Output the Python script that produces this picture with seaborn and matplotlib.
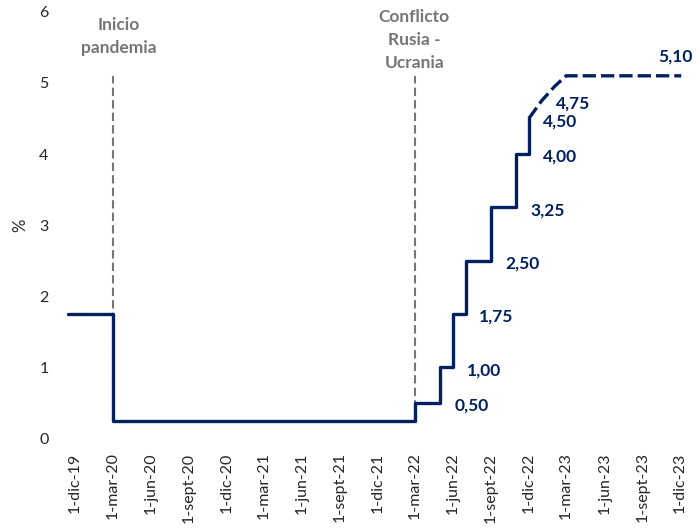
import pandas as pd
import matplotlib.pyplot as plt
import seaborn as sns

# policy rate (steps, actual) and projected path (dashed)
rate_dates = ['2019-11-14', '2020-03-01', '2022-03-01', '2022-05-01', '2022-06-01',
              '2022-07-01', '2022-09-01', '2022-11-01', '2022-12-01']
rate_values = [1.75, 0.25, 0.50, 1.00, 1.75, 2.50, 3.25, 4.00, 4.50]

proj_dates = ['2022-12-01', '2023-01-01', '2023-02-01', '2023-03-01', '2023-12-04']
proj_values = [4.50, 4.75, 4.95, 5.10, 5.10]

# where the value labels sit
label_dates = ['2022-05-01', '2022-06-01', '2022-07-01', '2022-09-01', '2022-11-01',
               '2022-12-01', '2022-12-01', '2023-01-01']
label_values = [0.50, 1.00, 1.75, 2.50, 3.25, 4.00, 4.50, 4.75]
label_texts = ['0,50', '1,00', '1,75', '2,50', '3,25', '4,00', '4,50', '4,75']

event_dates = ['2020-03-01', '2022-03-01']
event_texts = ['Inicio\npandemia', 'Conflicto\nRusia -\nUcrania']
event_text_shift = [14, -2]  # days
event_text_y = [5.65, 5.6]

tick_dates = pd.date_range('2019-12-01', '2023-12-01', freq='3MS')
tick_labels = ['1-dic-19', '1-mar-20', '1-jun-20', '1-sept-20', '1-dic-20', '1-mar-21',
               '1-jun-21', '1-sept-21', '1-dic-21', '1-mar-22', '1-jun-22', '1-sept-22',
               '1-dic-22', '1-mar-23', '1-jun-23', '1-sept-23', '1-dic-23']

sns.set_theme(style='white')
plt.rcParams['font.family'] = ['Lato', 'DejaVu Sans']

navy = '#002060'
grey = '#767676'
txt = '#262626'

df_rate = pd.DataFrame({'fecha': pd.to_datetime(rate_dates), 'tasa': rate_values})
df_proj = pd.DataFrame({'fecha': pd.to_datetime(proj_dates), 'tasa': proj_values})

fig = plt.figure(figsize=(7, 5.29), dpi=100)
ax = fig.add_axes([68 / 700, 90.5 / 529, 617.8 / 700, 426.7 / 529])

# event markers
for d, t, s, y in zip(event_dates, event_texts, event_text_shift, event_text_y):
    ax.vlines(pd.Timestamp(d), 0.25, 5.1, colors=grey, linestyles=(0, (4, 2)),
              linewidth=1.5, zorder=1)
    ax.text(pd.Timestamp(d) + pd.Timedelta(days=s), y, t, ha='center', va='center',
            fontsize=12.5, fontweight='bold', color=grey, linespacing=1.55)

sns.lineplot(data=df_rate, x='fecha', y='tasa', ax=ax, color=navy, linewidth=2.4,
             drawstyle='steps-post', estimator=None, clip_on=False, zorder=3)
sns.lineplot(data=df_proj, x='fecha', y='tasa', ax=ax, color=navy, linewidth=2.4,
             linestyle=(0, (4, 1.5)), estimator=None, clip_on=False, zorder=3)

for d, v, t in zip(label_dates, label_values, label_texts):
    ax.annotate(t, (pd.Timestamp(d), v), xytext=(10, -2), textcoords='offset points',
                ha='left', va='center', fontsize=12.5, fontweight='bold', color=navy)
ax.annotate('5,10', (pd.Timestamp(proj_dates[-1]), proj_values[-1]), xytext=(-4, 14),
            textcoords='offset points', ha='center', va='center', fontsize=12.5,
            fontweight='bold', color=navy, annotation_clip=False)

ax.set_xlim(pd.Timestamp('2019-11-14'), pd.Timestamp('2023-12-15'))
ax.set_ylim(0, 6)
ax.set_xticks(tick_dates)
ax.set_xticklabels(tick_labels, rotation=90, fontsize=11.5, color=txt)
ax.set_yticks(range(0, 7))
ax.set_yticklabels([str(i) for i in range(0, 7)], fontsize=11.5, color=txt)
ax.tick_params(axis='x', length=0, pad=10)
ax.tick_params(axis='y', length=0, pad=14)
ax.set_xlabel('')
ax.set_ylabel('%', fontsize=12, color=txt, labelpad=8)
sns.despine(ax=ax, left=True, bottom=True)

fig.savefig('out.png', dpi=100)
